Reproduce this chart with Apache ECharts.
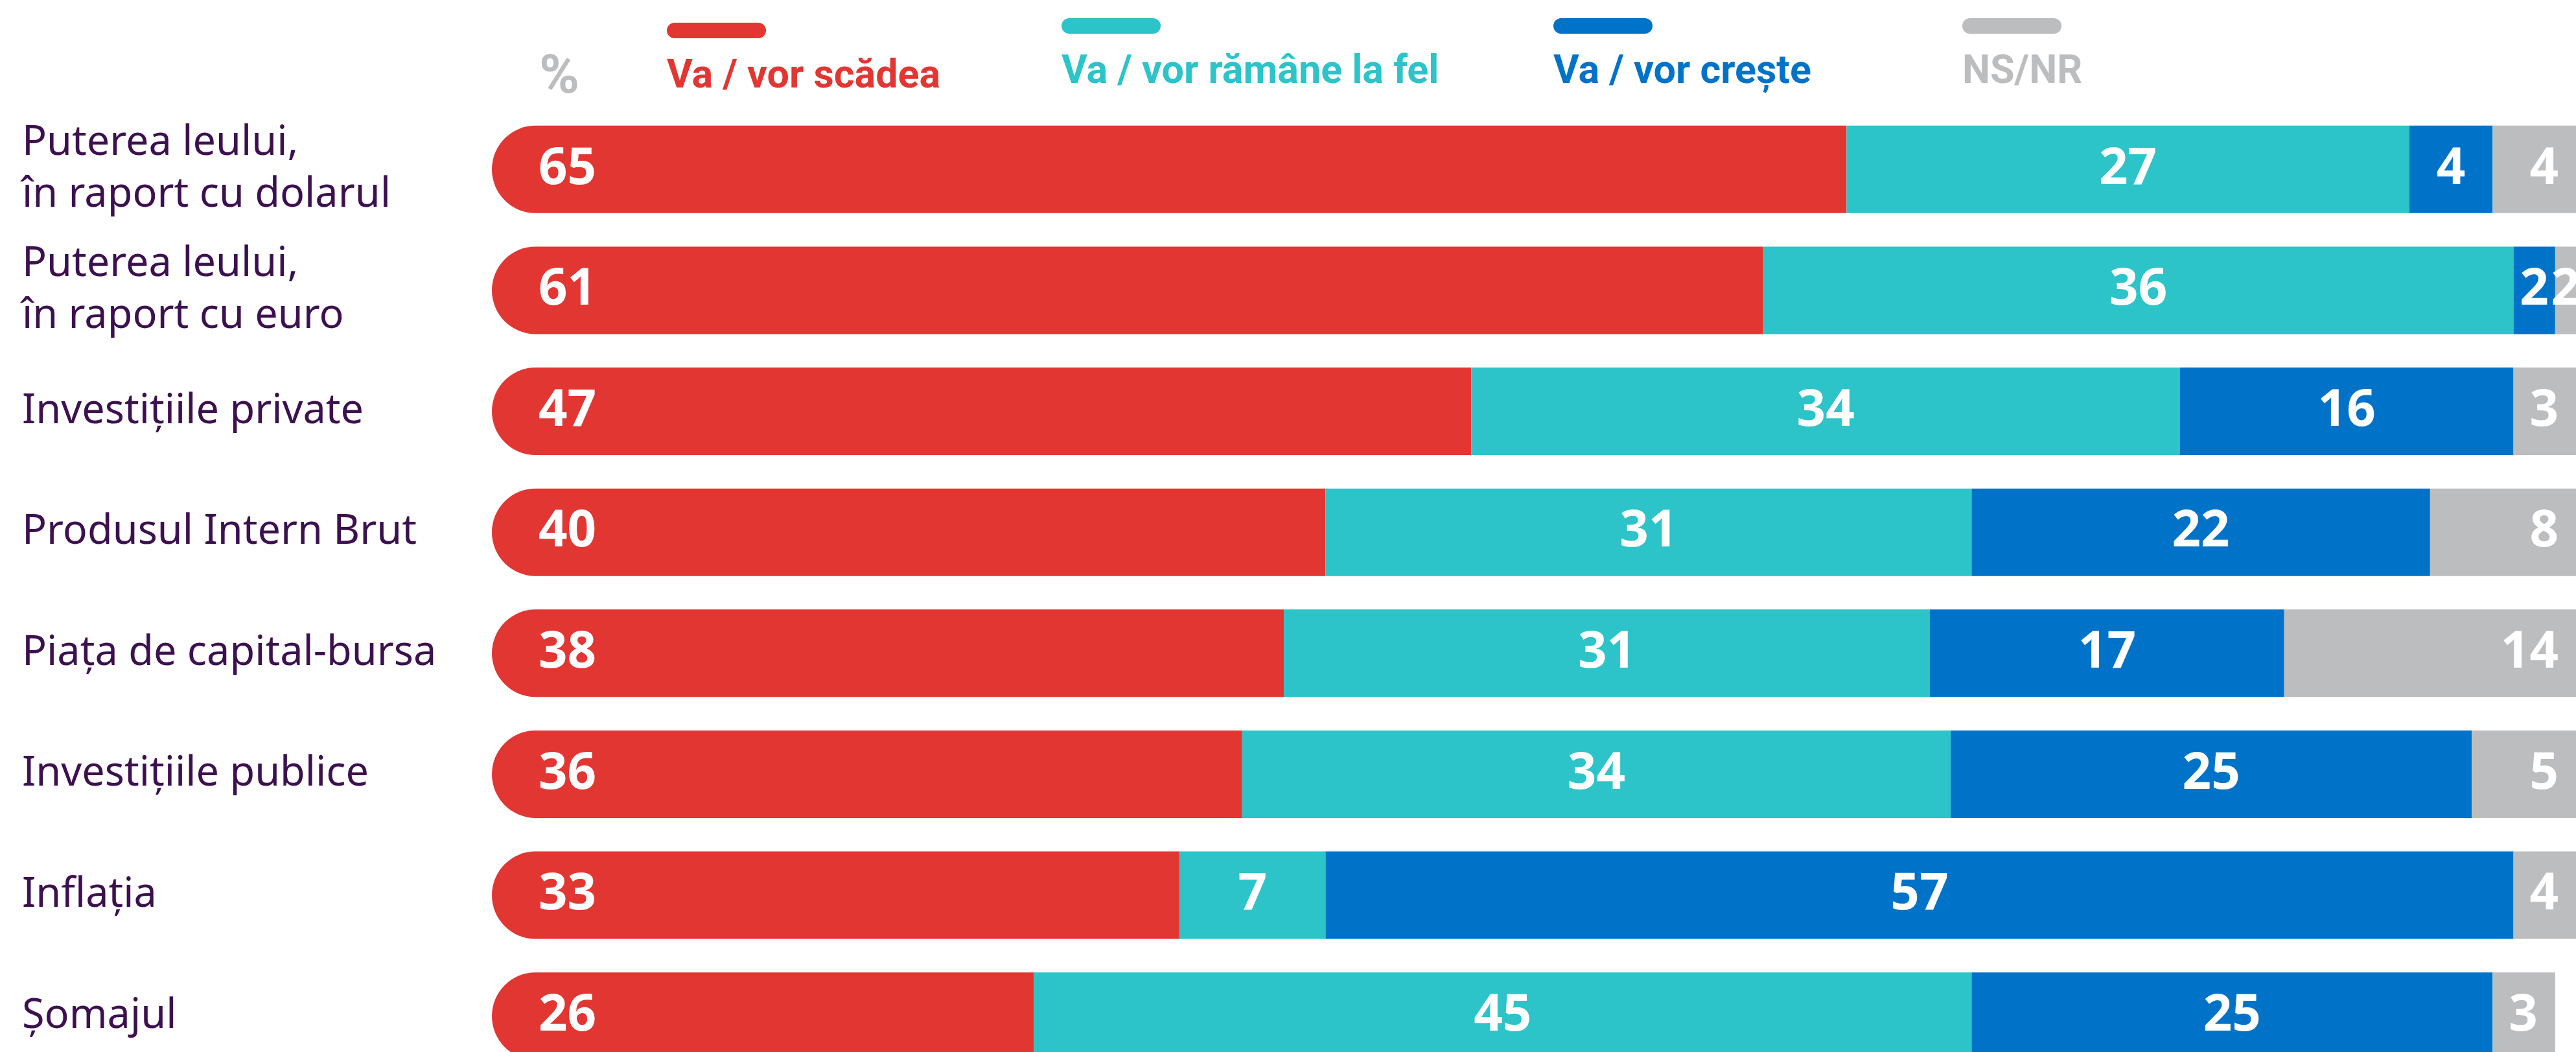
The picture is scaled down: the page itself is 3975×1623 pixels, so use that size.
<!DOCTYPE html>
<html>
<head>
<meta charset="utf-8">
<script src="https://cdn.jsdelivr.net/npm/echarts@6/dist/echarts.min.js"></script>
<style>
  html, body { margin: 0; padding: 0; background: #ffffff; }
  #chart { width: 3975px; height: 1623px; }
</style>
</head>
<body>
<div id="chart"></div>
<script>
// data
var categories = [
    'Puterea leului,\nîn raport cu dolarul',
    'Puterea leului,\nîn raport cu euro',
    'Investițiile private',
    'Produsul Intern Brut',
    'Piața de capital-bursa',
    'Investițiile publice',
    'Inflația',
    'Șomajul'
];
var seriesNames = ['Va / vor scădea', 'Va / vor rămâne la fel', 'Va / vor crește', 'NS/NR'];
var scad   = [65, 61, 47, 40, 38, 36, 33, 26];
var raman  = [27, 36, 34, 31, 31, 34,  7, 45];
var cresc  = [ 4,  2, 16, 22, 17, 25, 57, 25];
var nsnr   = [ 4,  2,  3,  8, 14,  5,  4,  3];
var unitLabel = '%';

var colors = ['#e23632', '#2cc4c9', '#0073c9', '#bcbdbf'];
var legendLeft = [1024, 1633, 2392, 3023];
var legendTop = [35, 28, 28, 28];

var valueFont = {
    color: '#ffffff',
    fontFamily: 'Noto Sans',
    fontWeight: 'bold',
    fontSize: 78
};

var makeSeries = (name, values, idx) => {
    var s = {
        name: name,
        type: 'bar',
        stack: 'total',
        barWidth: 135,
        itemStyle: { color: colors[idx] },
        label: Object.assign({ show: true, position: 'inside' }, valueFont),
        data: values.slice()
    };
    if (idx === 0) {
        s.itemStyle.borderRadius = [67.5, 0, 0, 67.5];
        s.label.position = 'insideLeft';
        s.label.distance = 72;
    }
    if (idx === 3) {
        // grey labels sit near the right end, very narrow pieces stay centred
        s.data = values.map(v => v > 2 ? v : { value: v, label: { position: 'inside' } });
        s.label.position = 'insideRight';
        s.label.distance = 27;
    }
    return s;
};

var legends = seriesNames.map((name, i) => ({
    data: [name],
    left: legendLeft[i],
    top: legendTop[i],
    padding: 0,
    icon: 'none',
    itemWidth: 0,
    itemHeight: 0,
    selectedMode: false,
    formatter: n => '{sw| }\n{t|' + n + '}',
    textStyle: {
        rich: {
            sw: { width: 153, height: 24, lineHeight: 24, backgroundColor: colors[i], borderRadius: 12 },
            t: {
                color: colors[i],
                fontFamily: 'Roboto',
                fontWeight: 'bold',
                fontSize: 61,
                lineHeight: 122
            }
        }
    }
}));

var myChart = echarts.init(document.getElementById('chart'));
var option = {
    animation: false,
    backgroundColor: '#ffffff',
    title: {
        text: unitLabel,
        left: 832,
        top: 80,
        padding: 0,
        textStyle: {
            color: '#bcbdbf',
            fontFamily: 'Roboto',
            fontWeight: 'bold',
            fontSize: 84
        }
    },
    legend: legends,
    grid: {
        left: 759,
        right: 0,
        top: 168,
        height: 1493,
        containLabel: false,
        outerBoundsMode: 'none'
    },
    xAxis: {
        type: 'value',
        min: 0,
        max: 100,
        show: false
    },
    yAxis: {
        type: 'category',
        inverse: true,
        data: categories,
        axisLine: { show: false },
        axisTick: { show: false },
        splitLine: { show: false },
        axisLabel: {
            align: 'left',
            margin: 725,
            color: '#3d1150',
            fontFamily: 'Noto Sans',
            fontSize: 63,
            lineHeight: 80,
            padding: [0, 0, 22, 0]
        }
    },
    series: [
        makeSeries(seriesNames[0], scad, 0),
        makeSeries(seriesNames[1], raman, 1),
        makeSeries(seriesNames[2], cresc, 2),
        makeSeries(seriesNames[3], nsnr, 3)
    ]
};
myChart.setOption(option, true);
</script>
</body>
</html>
